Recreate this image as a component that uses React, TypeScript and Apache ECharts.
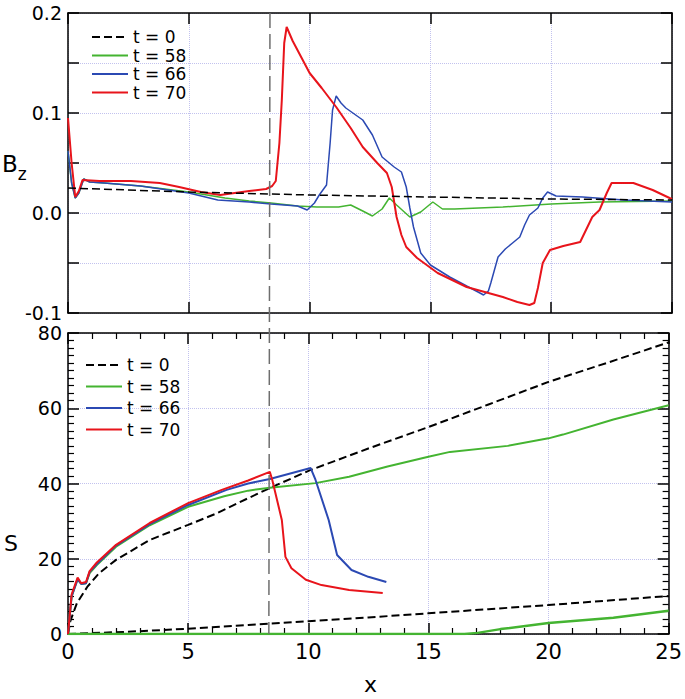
import React, { useEffect, useRef } from 'react';
import * as echarts from 'echarts';

const FONT = 'DejaVu Sans';
const names = ['t = 0', 't = 58', 't = 66', 't = 70'];
const colors = ['#000000', '#44b431', '#2b49b3', '#e8141b'];
const markX = 8.36;

// Top panel: Bz(x)
const bzT0 = [[0, 0.025], [5, 0.021], [8.4, 0.019], [10, 0.018], [15, 0.016], [20, 0.014], [25, 0.013]];
const bzT58 = [[0, 0.062], [0.15, 0.03], [0.3, 0.015], [0.45, 0.02], [0.65, 0.034], [0.9, 0.031], [1.5, 0.03], [3, 0.027], [5, 0.021], [6.5, 0.015], [7.5, 0.012], [8.4, 0.01], [9.5, 0.007], [10.3, 0.006], [11.2, 0.006], [11.7, 0.008], [12.2, 0.002], [12.6, -0.003], [13.0, 0.004], [13.3, 0.015], [13.6, 0.008], [14.15, -0.004], [14.6, 0.001], [15.1, 0.011], [15.5, 0.004], [16, 0.004], [18, 0.006], [20, 0.009], [22, 0.011], [25, 0.012]];
const bzT66 = [[0, 0.062], [0.15, 0.03], [0.3, 0.015], [0.45, 0.02], [0.65, 0.034], [0.9, 0.031], [1.5, 0.03], [3, 0.027], [5, 0.02], [6.2, 0.013], [7.5, 0.011], [8.4, 0.009], [9.5, 0.007], [9.9, 0.003], [10.2, 0.01], [10.4, 0.018], [10.7, 0.028], [10.85, 0.07], [10.95, 0.103], [11.1, 0.117], [11.3, 0.11], [11.5, 0.105], [12.2, 0.093], [12.6, 0.078], [13.0, 0.056], [13.5, 0.046], [13.8, 0.041], [14.0, 0.026], [14.15, 0.005], [14.3, -0.014], [14.6, -0.04], [15, -0.052], [15.8, -0.064], [16.5, -0.073], [17.05, -0.08], [17.2, -0.082], [17.4, -0.078], [17.5, -0.07], [17.8, -0.044], [18.1, -0.036], [18.4, -0.03], [18.7, -0.024], [18.9, -0.012], [19.1, -0.002], [19.45, 0.005], [19.65, 0.015], [19.85, 0.021], [20.2, 0.017], [21.3, 0.016], [23, 0.013], [25, 0.011]];
const bzT70 = [[0, 0.095], [0.15, 0.05], [0.3, 0.016], [0.45, 0.022], [0.6, 0.033], [1.3, 0.032], [2.6, 0.032], [3.8, 0.03], [4.6, 0.026], [5.5, 0.021], [6.3, 0.018], [7.5, 0.022], [8.2, 0.024], [8.45, 0.027], [8.6, 0.032], [8.75, 0.07], [8.85, 0.113], [8.95, 0.17], [9.05, 0.186], [9.3, 0.172], [10, 0.14], [10.5, 0.125], [11.1, 0.106], [11.7, 0.085], [12.2, 0.066], [12.8, 0.05], [13.2, 0.04], [13.4, 0.026], [13.6, -0.004], [13.8, -0.022], [14.0, -0.034], [14.45, -0.045], [15.3, -0.06], [16.5, -0.074], [18.0, -0.084], [18.6, -0.089], [19.1, -0.092], [19.3, -0.09], [19.45, -0.075], [19.65, -0.05], [19.95, -0.037], [20.5, -0.033], [21.2, -0.029], [21.7, -0.004], [22.0, 0.003], [22.3, 0.02], [22.5, 0.03], [23.4, 0.03], [24.2, 0.023], [24.9, 0.015], [25, 0.014]];

// Bottom panel: S(x)
const sT0Upper = [[0, 0], [0.1, 3.5], [0.37, 8.2], [0.8, 12.5], [1.3, 16.2], [2, 19.7], [3.4, 25], [5, 29], [6.2, 32.1], [7.5, 36.1], [8.4, 38.8], [10.1, 43.6], [12.5, 49.3], [15, 55], [17.5, 61], [20, 67], [22.5, 72.2], [25, 77.5]];
const sT0Lower = [[0, 0], [2.5, 0.6], [5, 1.4], [7.5, 2.4], [10, 3.4], [12.5, 4.4], [15, 5.5], [17.5, 6.6], [20, 7.7], [22.5, 8.9], [25, 10.1]];
const sT58Upper = [[0, 0], [0.15, 10], [0.4, 14.6], [0.55, 13.3], [0.75, 13.5], [0.9, 16.2], [1.2, 18.3], [2, 23.2], [3.4, 28.9], [5, 33.8], [6.5, 36.6], [7.5, 38.1], [8.4, 38.9], [10.3, 40.1], [11.7, 41.8], [13.3, 44.5], [15, 47.1], [15.9, 48.4], [18.3, 50], [20, 52], [20.6, 53], [22.7, 57], [25, 60.8]];
const sT58Lower = [[0, 0], [16.5, 0], [17.05, 0.3], [18, 1.3], [20, 2.9], [22.7, 4.3], [25, 6.2]];
const sT66Upper = [[0, 0], [0.15, 10], [0.4, 14.6], [0.55, 13.3], [0.75, 13.5], [0.9, 16.5], [1.2, 18.6], [2, 23.5], [3.4, 29.2], [5, 34.3], [6.6, 38.3], [7.5, 40], [8.4, 41.2], [10.1, 44.1], [10.3, 41], [10.85, 30.3], [11.2, 21], [11.8, 17], [12.5, 15.2], [13.25, 13.8]];
const sT70Upper = [[0, 0], [0.15, 10.5], [0.4, 15], [0.55, 13.5], [0.75, 13.8], [0.9, 16.7], [1.2, 19], [2, 23.7], [3.4, 29.5], [5, 34.8], [6.4, 38.3], [7.5, 40.8], [8.4, 43.1], [8.5, 41], [8.9, 30.3], [9.05, 20.5], [9.3, 17.5], [9.9, 14.4], [10.55, 13], [11.7, 11.7], [13.1, 10.9]];

const gridLine = { show: true, lineStyle: { type: 'dotted', color: '#c2c2ee', width: 1 } };
const axisLine = { show: true, onZero: false, lineStyle: { color: '#000', width: 1.5 } };

function line(name: string, data: number[][], axis: number, color: string, width: number, dashed: boolean, z: number) {
  return {
    type: 'line',
    name,
    data,
    xAxisIndex: axis,
    yAxisIndex: axis,
    symbol: 'none',
    z,
    lineStyle: { color, width, type: dashed ? [8, 4] : 'solid' },
    itemStyle: { color },
  };
}

function xAx(grid: number, pos: string, labels: boolean, minor: boolean, split: boolean) {
  return {
    type: 'value', gridIndex: grid, position: pos, min: 0, max: 25, interval: 5,
    axisLine,
    axisTick: { show: true, inside: true, length: 11, lineStyle: { color: '#000', width: 1.5 } },
    minorTick: { show: minor, splitNumber: 5, length: 6, lineStyle: { color: '#000', width: 1.2 } },
    axisLabel: { show: labels, color: '#000', fontSize: 21, fontFamily: FONT, margin: 7 },
    splitLine: split ? gridLine : { show: false },
  };
}

function yAx(grid: number, pos: string, min: number, max: number, interval: number, labels: boolean, minor: boolean, split: boolean, fmt?: (v: number) => string) {
  return {
    type: 'value', gridIndex: grid, position: pos, min, max, interval,
    axisLine,
    axisTick: { show: true, inside: true, length: 11, lineStyle: { color: '#000', width: 1.5 } },
    minorTick: { show: minor, splitNumber: 10, length: 6, lineStyle: { color: '#000', width: 1.2 } },
    axisLabel: { show: labels, color: '#000', fontSize: 19, lineHeight: 15, fontFamily: FONT, margin: 6, formatter: fmt },
    splitLine: split ? gridLine : { show: false },
  };
}

const bzFmt = (v: number) => {
  const k = Math.round(v * 20);
  return k % 2 === 0 ? (k / 20).toFixed(1) : '';
};

export default function App() {
  const ref = useRef<HTMLDivElement>(null);
  useEffect(() => {
    const chart = echarts.init(ref.current!, null, { renderer: 'svg' });
    const legendCommon = {
      orient: 'vertical', padding: 0, itemWidth: 36, itemHeight: 10, selectedMode: false,
      itemStyle: { opacity: 0 },
      textStyle: { fontSize: 17, fontFamily: FONT, color: '#000', lineHeight: 18 },
      data: names,
    };
    chart.setOption({
      animation: false,
      backgroundColor: '#fff',
      grid: [
        { left: 68, top: 13, width: 604, height: 300 },
        { left: 68, top: 333, width: 604, height: 301 },
      ],
      legend: [
        { ...legendCommon, left: 91, top: 28, itemGap: 0.5 },
        { ...legendCommon, left: 85, top: 356, itemGap: 3.5 },
      ],
      xAxis: [
        xAx(0, 'bottom', false, false, true),
        xAx(0, 'top', false, false, false),
        xAx(1, 'bottom', true, true, true),
        xAx(1, 'top', false, true, false),
      ],
      yAxis: [
        yAx(0, 'left', -0.1, 0.2, 0.05, true, false, true, bzFmt),
        yAx(0, 'right', -0.1, 0.2, 0.05, false, false, false),
        yAx(1, 'left', 0, 80, 20, true, true, true),
        yAx(1, 'right', 0, 80, 20, false, true, false),
      ],
      series: [
        line(names[0], bzT0, 0, colors[0], 1.5, true, 6),
        line(names[1], bzT58, 0, colors[1], 1.5, false, 3),
        line(names[2], bzT66, 0, colors[2], 1.5, false, 4),
        line(names[3], bzT70, 0, colors[3], 2, false, 5),
        line(names[0], sT0Upper, 2, colors[0], 2, true, 3),
        line(names[0], sT0Lower, 2, colors[0], 2, true, 3),
        line(names[1], sT58Upper, 2, colors[1], 2, false, 4),
        line(names[1], sT58Lower, 2, colors[1], 2.5, false, 4),
        line(names[2], sT66Upper, 2, colors[2], 2, false, 5),
        line(names[3], sT70Upper, 2, colors[3], 2, false, 6),
      ],
      graphic: [
        {
          id: 'bz', type: 'text', left: 2, top: 152,
          style: {
            text: '{b|B}{z|z}', fontFamily: FONT, fill: '#000',
            rich: {
              b: { fontSize: 23, fontFamily: FONT, lineHeight: 30, verticalAlign: 'top' },
              z: { fontSize: 17, fontFamily: FONT, lineHeight: 30, verticalAlign: 'bottom' },
            },
          },
        },
        { id: 's', type: 'text', left: 4, top: 532, style: { text: 'S', fontSize: 22, fontFamily: FONT, fill: '#000' } },
        { id: 'xname', type: 'text', left: 364, top: 673, style: { text: 'x', fontSize: 22, fontFamily: FONT, fill: '#000' } },
      ],
    });
    const p1 = chart.convertToPixel({ xAxisIndex: 0, yAxisIndex: 0 }, [markX, 0.2]) as number[];
    const p2 = chart.convertToPixel({ xAxisIndex: 2, yAxisIndex: 2 }, [markX, 0]) as number[];
    chart.setOption({
      graphic: [
        { id: 'vline', type: 'line', z: 10, shape: { x1: p1[0], y1: p1[1], x2: p2[0], y2: p2[1] }, style: { stroke: '#6e6e6e', lineWidth: 1.5, lineDash: [15, 6] } },
      ],
    });
    return () => chart.dispose();
  }, []);
  return <div ref={ref} style={{ position: 'absolute', left: 0, top: 0, width: 685, height: 699 }} />;
}
